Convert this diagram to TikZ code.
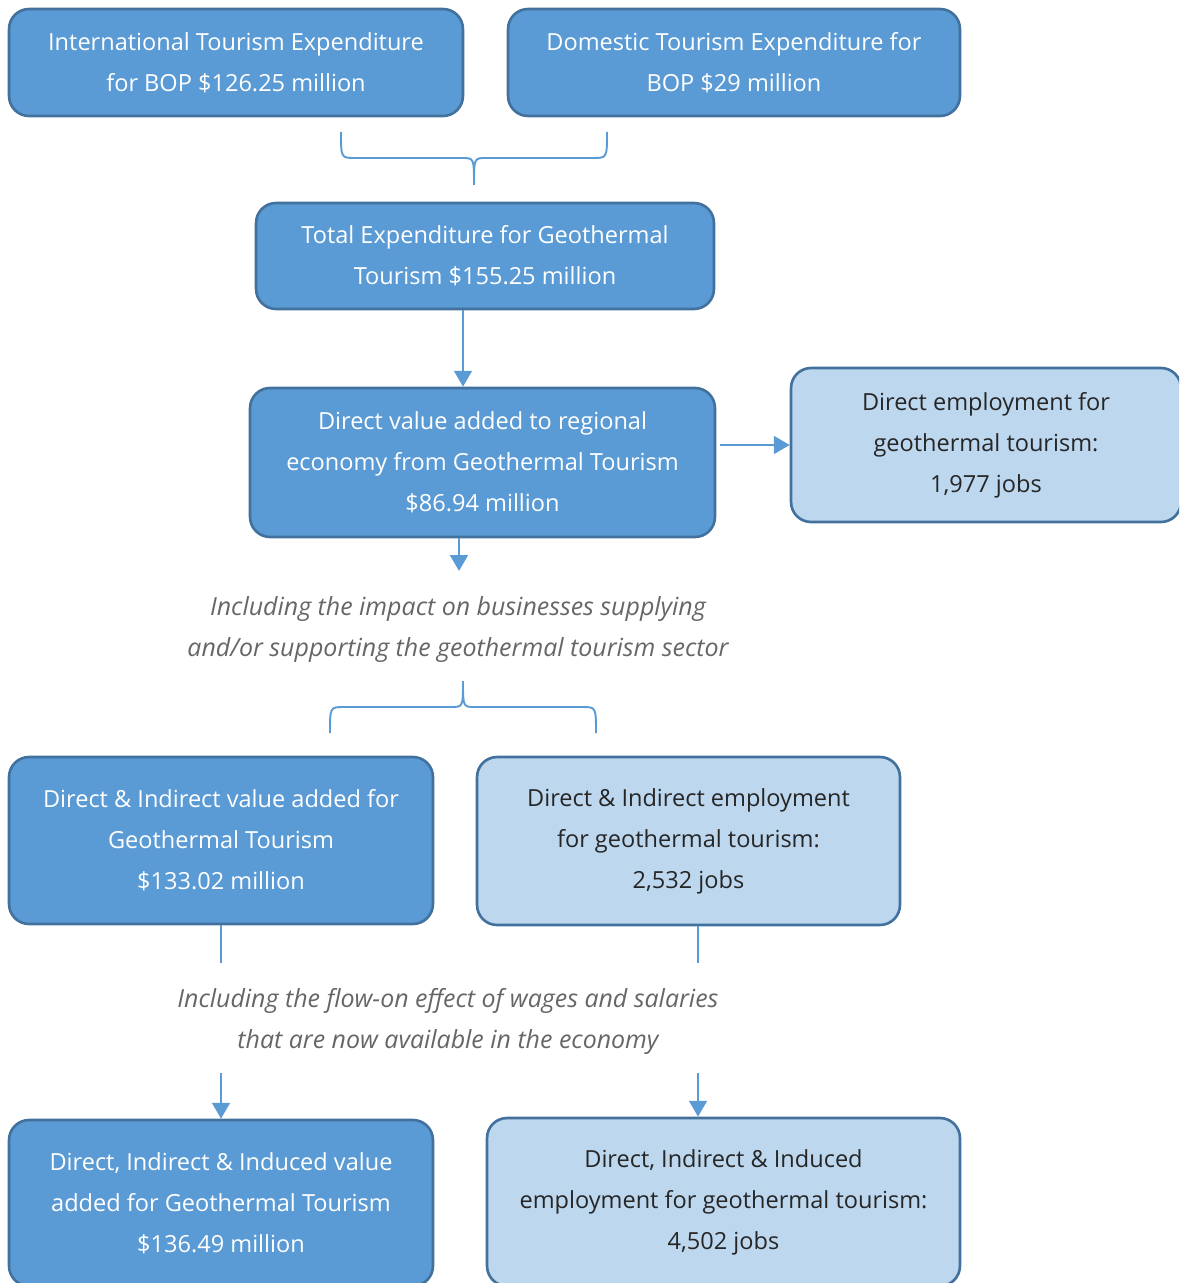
\documentclass[tikz,border=0pt]{standalone}
\usepackage{fontspec}
\setmainfont{Open Sans}
\usepackage{xcolor}
\usepackage{tikz}
\usetikzlibrary{positioning,shapes,arrows,arrows.meta,calc}
\definecolor{boxblue}{RGB}{91,155,213}
\definecolor{paleblue}{RGB}{189,215,238}
\definecolor{edgeblue}{RGB}{65,113,156}
\definecolor{notegray}{RGB}{102,102,102}
\definecolor{darktext}{RGB}{38,38,38}

\begin{document}
\begin{tikzpicture}[x=0.02cm, y=-0.02cm]
    \tikzstyle{valuebox} = [rectangle, rounded corners=0.4cm, line width=1.5pt, draw=edgeblue, fill=boxblue, text=white, align=center, font=\fontsize{13.4}{23.3}\selectfont]
    \tikzstyle{jobsbox} = [rectangle, rounded corners=0.4cm, line width=1.5pt, draw=edgeblue, fill=paleblue, text=darktext, align=center, font=\fontsize{13.4}{23.3}\selectfont]
    \tikzstyle{note} = [align=center, text=notegray, font=\fontsize{14.2}{23.3}\selectfont\itshape]
    \tikzstyle{arrow} = [-{Triangle[width=10pt,length=9pt]}, line width=1.5pt, draw=boxblue, fill=boxblue]
    \tikzstyle{brace} = [line width=1.1pt, draw=boxblue]

    \useasboundingbox (0,0) rectangle (1179,1283);
    \clip (0,0) rectangle (1179,1283);

    % Expenditure
    \node [valuebox, minimum width=9.08cm, minimum height=2.14cm] (intl) at (236,62.5) {International Tourism Expenditure\\for BOP \$126.25 million};
    \node [valuebox, minimum width=9.04cm, minimum height=2.14cm] (domestic) at (734,62.5) {Domestic Tourism Expenditure for\\BOP \$29 million};
    \node [valuebox, minimum width=9.16cm, minimum height=2.12cm] (total) at (485,256) {Total Expenditure for Geothermal\\Tourism \$155.25 million};

    % Direct
    \node [valuebox, minimum width=9.3cm, minimum height=2.98cm] (direct) at (482.5,462.5) {Direct value added to regional\\economy from Geothermal Tourism\\\$86.94 million};
    \node [jobsbox, minimum width=7.8cm, minimum height=3.08cm] (directjobs) at (986,445) {Direct employment for\\geothermal tourism:\\1,977 jobs};

    % Notes
    \node [note] (supply) at (458,629.5) {Including the impact on businesses supplying\\and/or supporting the geothermal tourism sector};
    \node [note] (flowon) at (448,1021.5) {Including the flow-on effect of wages and salaries\\that are now available in the economy};

    % Direct & Indirect
    \node [valuebox, minimum width=8.48cm, minimum height=3.34cm] (indirect) at (221,840.5) {Direct \& Indirect value added for\\Geothermal Tourism\\\$133.02 million};
    \node [jobsbox, minimum width=8.46cm, minimum height=3.36cm] (indirectjobs) at (688.5,841) {Direct \& Indirect employment\\for geothermal tourism:\\2,532 jobs};

    % Direct, Indirect & Induced
    \node [valuebox, minimum width=8.48cm, minimum height=3.32cm] (induced) at (221,1203) {Direct, Indirect \& Induced value\\added for Geothermal Tourism\\\$136.49 million};
    \node [jobsbox, minimum width=9.46cm, minimum height=3.36cm] (inducedjobs) at (723.5,1202) {Direct, Indirect \& Induced\\employment for geothermal tourism:\\4,502 jobs};

    % Braces
    \coordinate (sumtip) at (474,185);
    \coordinate (splittip) at (463,681);
    \draw [brace] (341,132) .. controls (341,158) .. (355,158) -- (462,158) .. controls (474,158) .. (sumtip) .. controls (474,158) .. (486,158) -- (593,158) .. controls (607,158) .. (607,132);
    \draw [brace] (330,733) .. controls (330,707) .. (344,707) -- (451,707) .. controls (463,707) .. (splittip) .. controls (463,707) .. (475,707) -- (582,707) .. controls (596,707) .. (596,733);

    % Arrows
    \coordinate (supplytop) at (459,571);
    \coordinate (flowleft) at (221,963);
    \coordinate (flowright) at (698,963);
    \coordinate (inleft) at (221,1073);
    \coordinate (inright) at (698,1073);
    \draw [arrow] ([xshift=-0.44cm]total.south) -- ([xshift=-0.44cm]total.south |- direct.north);
    \draw [arrow] ([xshift=0.08cm]direct.east |- directjobs.west) -- (directjobs.west);
    \draw [arrow] (direct.south -| supplytop) -- (supplytop);
    \draw [brace] (indirect.south) -- (flowleft);
    \draw [brace] (indirectjobs.south -| flowright) -- (flowright);
    \draw [arrow] (inleft) -- (induced.north);
    \draw [arrow] (inright) -- (inducedjobs.north -| inright);
\end{tikzpicture}
\end{document}
